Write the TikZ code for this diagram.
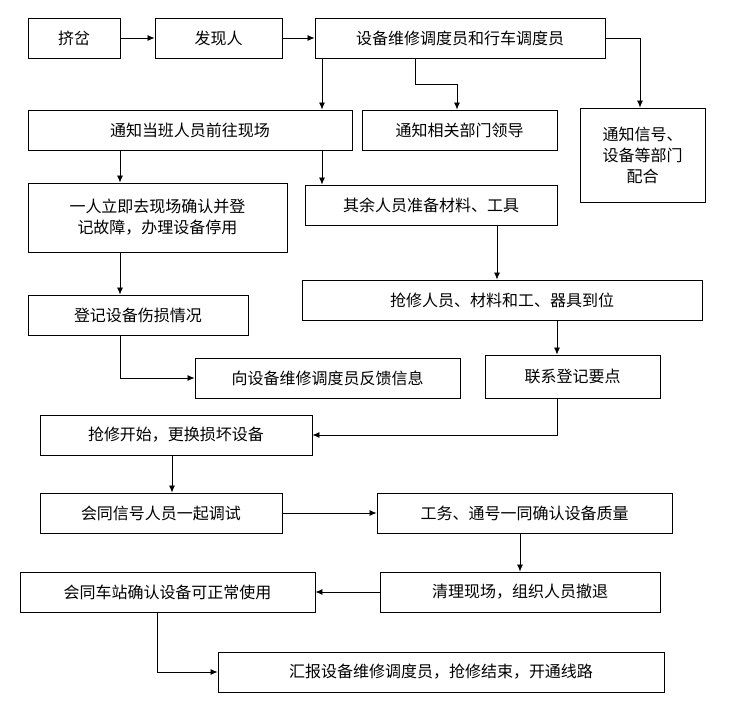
\documentclass[tikz,border=0pt]{standalone}
\usepackage{fontspec}
\setmainfont{Noto Sans CJK SC}
\usetikzlibrary{arrows.meta}
\begin{document}
\begin{tikzpicture}[x=1pt,y=-1pt,
 box/.style={draw,line width=0.9pt,inner sep=0pt,font=\fontsize{16}{21}\selectfont,align=center},
 arr/.style={draw,line width=0.8pt,-{Latex[length=7pt,width=6pt]}}]
\useasboundingbox (0,0) rectangle (740,704);
\newcommand{\bx}[6]{\node[box,minimum width=#4-#2,minimum height=#5-#3] (#1) at ({(#2+#4)/2},{(#3+#5)/2}) {#6};}
\bx{a}{28}{18}{120}{58}{挤岔}
\bx{b}{155}{18}{282}{58}{发现人}
\bx{c}{315}{18}{605}{58}{设备维修调度员和行车调度员}
\bx{d}{28}{110}{352}{150}{通知当班人员前往现场}
\bx{e}{362}{110}{557}{150}{通知相关部门领导}
\bx{f}{580}{108}{705}{202}{通知信号、\\设备等部门\\配合}
\bx{g}{28}{183}{287}{252}{一人立即去现场确认并登\\记故障，办理设备停用}
\bx{h}{305}{185}{557}{225}{其余人员准备材料、工具}
\bx{i}{302}{280}{702}{320}{抢修人员、材料和工、器具到位}
\bx{j}{28}{295}{248}{335}{登记设备伤损情况}
\bx{k}{195}{358}{460}{398}{向设备维修调度员反馈信息}
\bx{l}{485}{355}{660}{398}{联系登记要点}
\bx{m}{40}{415}{312}{455}{抢修开始，更换损坏设备}
\bx{n}{40}{493}{282}{533}{会同信号人员一起调试}
\bx{o}{377}{493}{672}{533}{工务、通号一同确认设备质量}
\bx{p}{20}{572}{315}{612}{会同车站确认设备可正常使用}
\bx{q}{380}{572}{660}{612}{清理现场，组织人员撤退}
\bx{r}{218}{652}{664}{692}{汇报设备维修调度员，抢修结束，开通线路}
\draw[arr] (a) -- (b);
\draw[arr] (b) -- (c);
\draw[arr] (c.south -| 322,0) -- (d.north -| 322,0);
\draw[arr] (c.south -| 415,0) -- (415,84) -- (457,84) -- (e.north -| 457,0);
\draw[arr] (c.east) -- (640,38) -- (f.north -| 640,0);
\draw[arr] (d.south -| 120,0) -- (g.north -| 120,0);
\draw[arr] (d.south -| 322,0) -- (h.north -| 322,0);
\draw[arr] (g.south -| 120,0) -- (j.north -| 120,0);
\draw[arr] (h.south -| 497,0) -- (i.north -| 497,0);
\draw[arr] (j.south -| 120,0) -- (120,378) -- (k.west);
\draw[arr] (i.south -| 557,0) -- (l.north -| 557,0);
\draw[arr] (l.south -| 557,0) -- (557,435) -- (m.east);
\draw[arr] (m.south -| 172,0) -- (n.north -| 172,0);
\draw[arr] (n) -- (o);
\draw[arr] (o.south -| 520,0) -- (q.north -| 520,0);
\draw[arr] (q) -- (p);
\draw[arr] (p.south -| 157,0) -- (157,672) -- (r.west);
\end{tikzpicture}
\end{document}
